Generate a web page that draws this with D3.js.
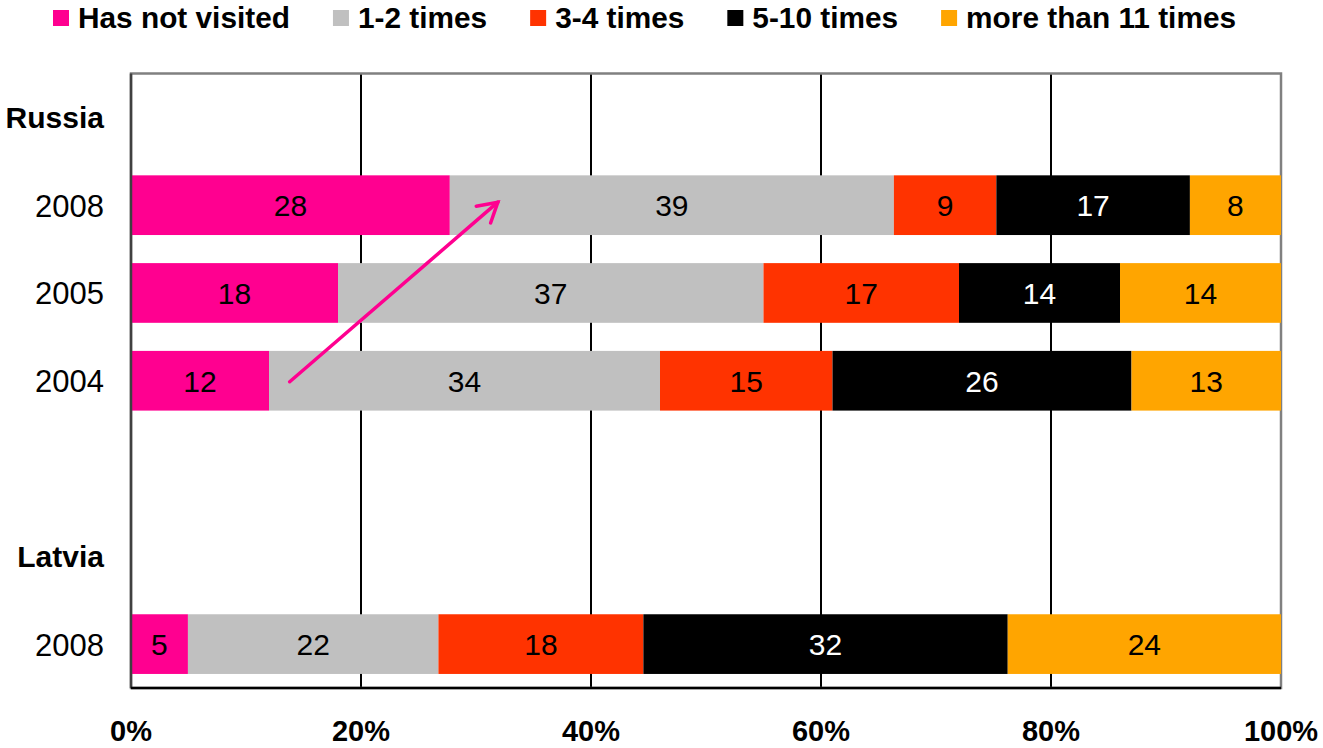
<!DOCTYPE html>
<html>
<head>
<meta charset="utf-8">
<script src="https://cdn.jsdelivr.net/npm/d3@7"></script>
<style>
  body { margin: 0; background: #fff; }
  text { font-family: "Liberation Sans", Arial, sans-serif; }
</style>
</head>
<body>
<div id="chart"></div>
<script>
// series names + colours
var categories = ["Has not visited", "1-2 times", "3-4 times", "5-10 times", "more than 11 times"];
var colors = ["#FF0090", "#C0C0C0", "#FF3300", "#000000", "#FFA500"];

// rows top to bottom (blank row between countries)
var rowKeys = ["Russia", "Russia 2008", "Russia 2005", "Russia 2004", "blank", "Latvia", "Latvia 2008"];
var rowLabels = ["Russia", "2008", "2005", "2004", "", "Latvia", "2008"];
var headerRows = ["Russia", "Latvia"];

// values per row (%)
var russia2008 = [28, 39, 9, 17, 8];
var russia2005 = [18, 37, 17, 14, 14];
var russia2004 = [12, 34, 15, 26, 13];
var latvia2008 = [5, 22, 18, 32, 24];

var xTicks = [0, 20, 40, 60, 80, 100];

var svgWidth = 1323;
var svgHeight = 748;

var margin = { top: 73.5, bottom: 60, right: 42, left: 131 };
var width = svgWidth - margin.left - margin.right;
var height = svgHeight - margin.top - margin.bottom;

var svg = d3.select("#chart")
    .append("svg")
    .attr("width", svgWidth)
    .attr("height", svgHeight);

var plot = svg.append("g")
    .attr("transform", `translate(${margin.left}, ${margin.top})`);

var x = d3.scaleLinear().domain([0, 100]).range([0, width]);
var y = d3.scaleBand().domain(rowKeys).range([0, height])
    .paddingInner(0.32).paddingOuter(0.16);

// build stacked segments, each row normalised to 100%
var barRows = [
    { key: "Russia 2008", vals: russia2008 },
    { key: "Russia 2005", vals: russia2005 },
    { key: "Russia 2004", vals: russia2004 },
    { key: "Latvia 2008", vals: latvia2008 }
];
var segments = [];
barRows.forEach(r => {
    var total = d3.sum(r.vals);
    var x0 = 0;
    r.vals.forEach((v, i) => {
        var w = v / total * 100;
        segments.push({ key: r.key, i: i, v: v, x0: x0, x1: x0 + w });
        x0 += w;
    });
});

// gridlines
plot.append("g")
    .selectAll("line")
    .data(xTicks.filter(t => t > 0 && t < 100))
    .enter()
    .append("line")
    .attr("x1", d => x(d)).attr("x2", d => x(d))
    .attr("y1", 0).attr("y2", height)
    .attr("stroke", "#000")
    .attr("stroke-width", 2);

// plot frame
plot.append("rect")
    .attr("x", 0).attr("y", 0)
    .attr("width", width).attr("height", height)
    .attr("fill", "none")
    .attr("stroke", "#808080")
    .attr("stroke-width", 2.5);

// bars
plot.append("g")
    .selectAll("rect")
    .data(segments)
    .enter()
    .append("rect")
    .attr("x", d => x(d.x0))
    .attr("width", d => x(d.x1) - x(d.x0))
    .attr("y", d => y(d.key))
    .attr("height", y.bandwidth())
    .attr("fill", d => colors[d.i]);

// value labels
plot.append("g")
    .selectAll("text")
    .data(segments)
    .enter()
    .append("text")
    .attr("x", d => x((d.x0 + d.x1) / 2))
    .attr("y", d => y(d.key) + y.bandwidth() / 2)
    .attr("dy", "0.37em")
    .attr("text-anchor", "middle")
    .style("font-size", "30px")
    .attr("fill", d => d.i === 3 ? "#fff" : "#000")
    .text(d => d.v);

// axes lines (left + bottom)
plot.append("line")
    .attr("x1", 0).attr("x2", 0).attr("y1", 0).attr("y2", height)
    .attr("stroke", "#404040").attr("stroke-width", 2.5);
plot.append("line")
    .attr("x1", 0).attr("x2", width).attr("y1", height).attr("y2", height)
    .attr("stroke", "#000").attr("stroke-width", 2.5);

// row labels
plot.append("g")
    .selectAll("text")
    .data(rowKeys)
    .enter()
    .append("text")
    .attr("x", -27)
    .attr("y", d => y(d) + y.bandwidth() / 2)
    .attr("dy", "0.37em")
    .attr("text-anchor", "end")
    .style("font-size", (d, i) => headerRows.includes(rowLabels[i]) ? "30px" : "31px")
    .style("font-weight", (d, i) => headerRows.includes(rowLabels[i]) ? "bold" : "normal")
    .text((d, i) => rowLabels[i]);

// x tick labels
plot.append("g")
    .selectAll("text")
    .data(xTicks)
    .enter()
    .append("text")
    .attr("x", d => x(d))
    .attr("y", height + 53)
    .attr("text-anchor", "middle")
    .style("font-size", "29px")
    .style("font-weight", "bold")
    .text(d => d + "%");

// pink arrow 2004 -> 2008
var a0 = [x(13.8), y("Russia 2004") + y.bandwidth() / 2 + 1];
var a1 = [x(31.9), y("Russia 2008") + y.bandwidth() / 2 - 3];
var ang = Math.atan2(a1[1] - a0[1], a1[0] - a0[0]);
var headLen = 22, headAng = Math.PI / 6;
var arrow = plot.append("g")
    .attr("stroke", "#FF0090")
    .attr("stroke-width", 3.5)
    .attr("fill", "none")
    .attr("stroke-linecap", "round");
arrow.append("line")
    .attr("x1", a0[0]).attr("y1", a0[1])
    .attr("x2", a1[0]).attr("y2", a1[1]);
arrow.append("path")
    .attr("d", d3.line()([
        [a1[0] - headLen * Math.cos(ang - headAng), a1[1] - headLen * Math.sin(ang - headAng)],
        a1,
        [a1[0] - headLen * Math.cos(ang + headAng), a1[1] - headLen * Math.sin(ang + headAng)]
    ]));

// legend
var legend = svg.append("g").attr("transform", "translate(53, 0)");
var lx = 0;
categories.forEach((c, i) => {
    var item = legend.append("g").attr("transform", `translate(${lx}, 0)`);
    item.append("rect")
        .attr("x", 0).attr("y", 10)
        .attr("width", 16).attr("height", 16)
        .attr("fill", colors[i]);
    var t = item.append("text")
        .attr("x", 25)
        .attr("y", 28)
        .style("font-size", "29.8px")
        .style("font-weight", "bold")
        .text(c);
    lx += 25 + t.node().getComputedTextLength() + 43;
});
</script>
</body>
</html>
